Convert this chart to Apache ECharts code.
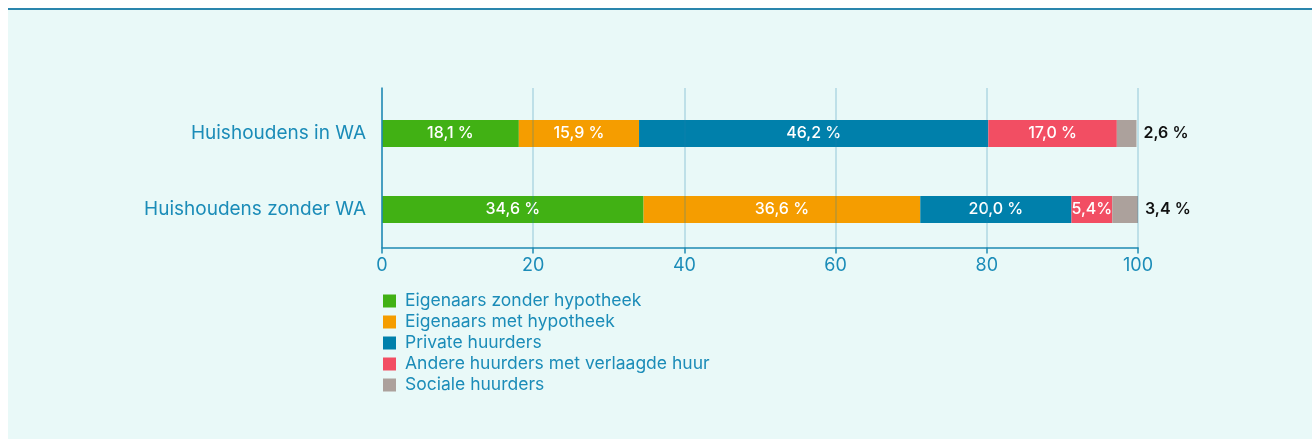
<!DOCTYPE html>
<html>
<head>
<meta charset="utf-8">
<script src="https://cdn.jsdelivr.net/npm/echarts@6/dist/echarts.min.js"></script>
<style>
  html, body { margin: 0; padding: 0; background: #ffffff; }
  #panel { position: absolute; left: 8px; top: 8px; width: 1304px; height: 431px;
           border-top: 2px solid #2a86ad; background: #e9f9f8; }
  #chart { width: 1304px; height: 429px; }
</style>
</head>
<body>
<div id="panel"><div id="chart"></div></div>
<script>
const categories = ['Huishoudens in WA', 'Huishoudens zonder WA'];
const seriesNames = ['Eigenaars zonder hypotheek', 'Eigenaars met hypotheek', 'Private huurders',
                     'Andere huurders met verlaagde huur', 'Sociale huurders'];
const eigenaarsZonder = [18.1, 34.6];
const eigenaarsMet = [15.9, 36.6];
const privateHuurders = [46.2, 20.0];
const andereHuurders = [17.0, 5.4];
const socialeHuurders = [2.6, 3.4];
const labelsEigenaarsZonder = ['18,1 %', '34,6 %'];
const labelsEigenaarsMet = ['15,9 %', '36,6 %'];
const labelsPrivate = ['46,2 %', '20,0 %'];
const labelsAndere = ['17,0 %', '5,4%'];
const labelsSociale = ['2,6 %', '3,4 %'];
const xTicks = [0, 20, 40, 60, 80, 100];

const colors = ['#41b114', '#f59d00', '#0080ab', '#f24e63', '#aca19c'];
const values = [eigenaarsZonder, eigenaarsMet, privateHuurders, andereHuurders, socialeHuurders];
const labels = [labelsEigenaarsZonder, labelsEigenaarsMet, labelsPrivate, labelsAndere, labelsSociale];
const FONT = 'Inter, "Noto Sans", sans-serif';
const BLUE = '#1b8cb8';

const series = seriesNames.map((name, i) => ({
  name: name,
  type: 'bar',
  stack: 'total',
  xAxisIndex: 0,
  yAxisIndex: 0,
  barWidth: 27,
  itemStyle: { color: colors[i] },
  label: i === 4 ? {
    show: true, position: 'right', distance: 7,
    color: '#111111', fontFamily: FONT, fontSize: 16, fontWeight: 600,
    formatter: p => labels[i][p.dataIndex]
  } : {
    show: true, position: 'inside',
    color: '#ffffff', fontFamily: FONT, fontSize: 16, fontWeight: 500,
    formatter: p => labels[i][p.dataIndex]
  },
  data: values[i]
}));

const chart = echarts.init(document.getElementById('chart'), null, { renderer: 'canvas' });
chart.setOption({
  animation: false,
  color: colors,
  grid: [
    { left: 374, right: 174, top: 85.5, height: 152 },
    { left: 374, right: 174, top: 78, height: 159.5 }
  ],
  legend: {
    orient: 'vertical', left: 375, top: 282, padding: 0,
    icon: 'rect', itemWidth: 13, itemHeight: 13, itemGap: 3,
    textStyle: { color: BLUE, fontFamily: FONT, fontSize: 17.5, lineHeight: 17, padding: [0, 0, 0, 4] },
    data: seriesNames
  },
  xAxis: [
    { type: 'value', gridIndex: 0, min: 0, max: 100, show: false },
    {
      type: 'value', gridIndex: 1, min: xTicks[0], max: xTicks[xTicks.length - 1], interval: 20, z: 5,
      axisLine: { show: true, lineStyle: { color: '#1f8ab3', width: 1.5 } },
      axisTick: { show: true, length: 6, lineStyle: { color: '#1f8ab3', width: 1.5 } },
      axisLabel: { color: BLUE, fontFamily: FONT, fontSize: 18, margin: 9 },
      splitLine: { show: true, lineStyle: { color: 'rgba(30,130,175,0.28)', width: 1.5 } }
    }
  ],
  yAxis: [
    {
      type: 'category', gridIndex: 0, inverse: true, data: categories,
      axisLine: { show: false }, axisTick: { show: false },
      axisLabel: { color: BLUE, fontFamily: FONT, fontSize: 19, margin: 16 }
    },
    {
      type: 'category', gridIndex: 1, inverse: true, data: categories, z: 5,
      axisLine: { show: true, lineStyle: { color: '#1f8ab3', width: 1.5 } },
      axisTick: { show: false }, axisLabel: { show: false }
    }
  ],
  series: series
});
</script>
</body>
</html>
